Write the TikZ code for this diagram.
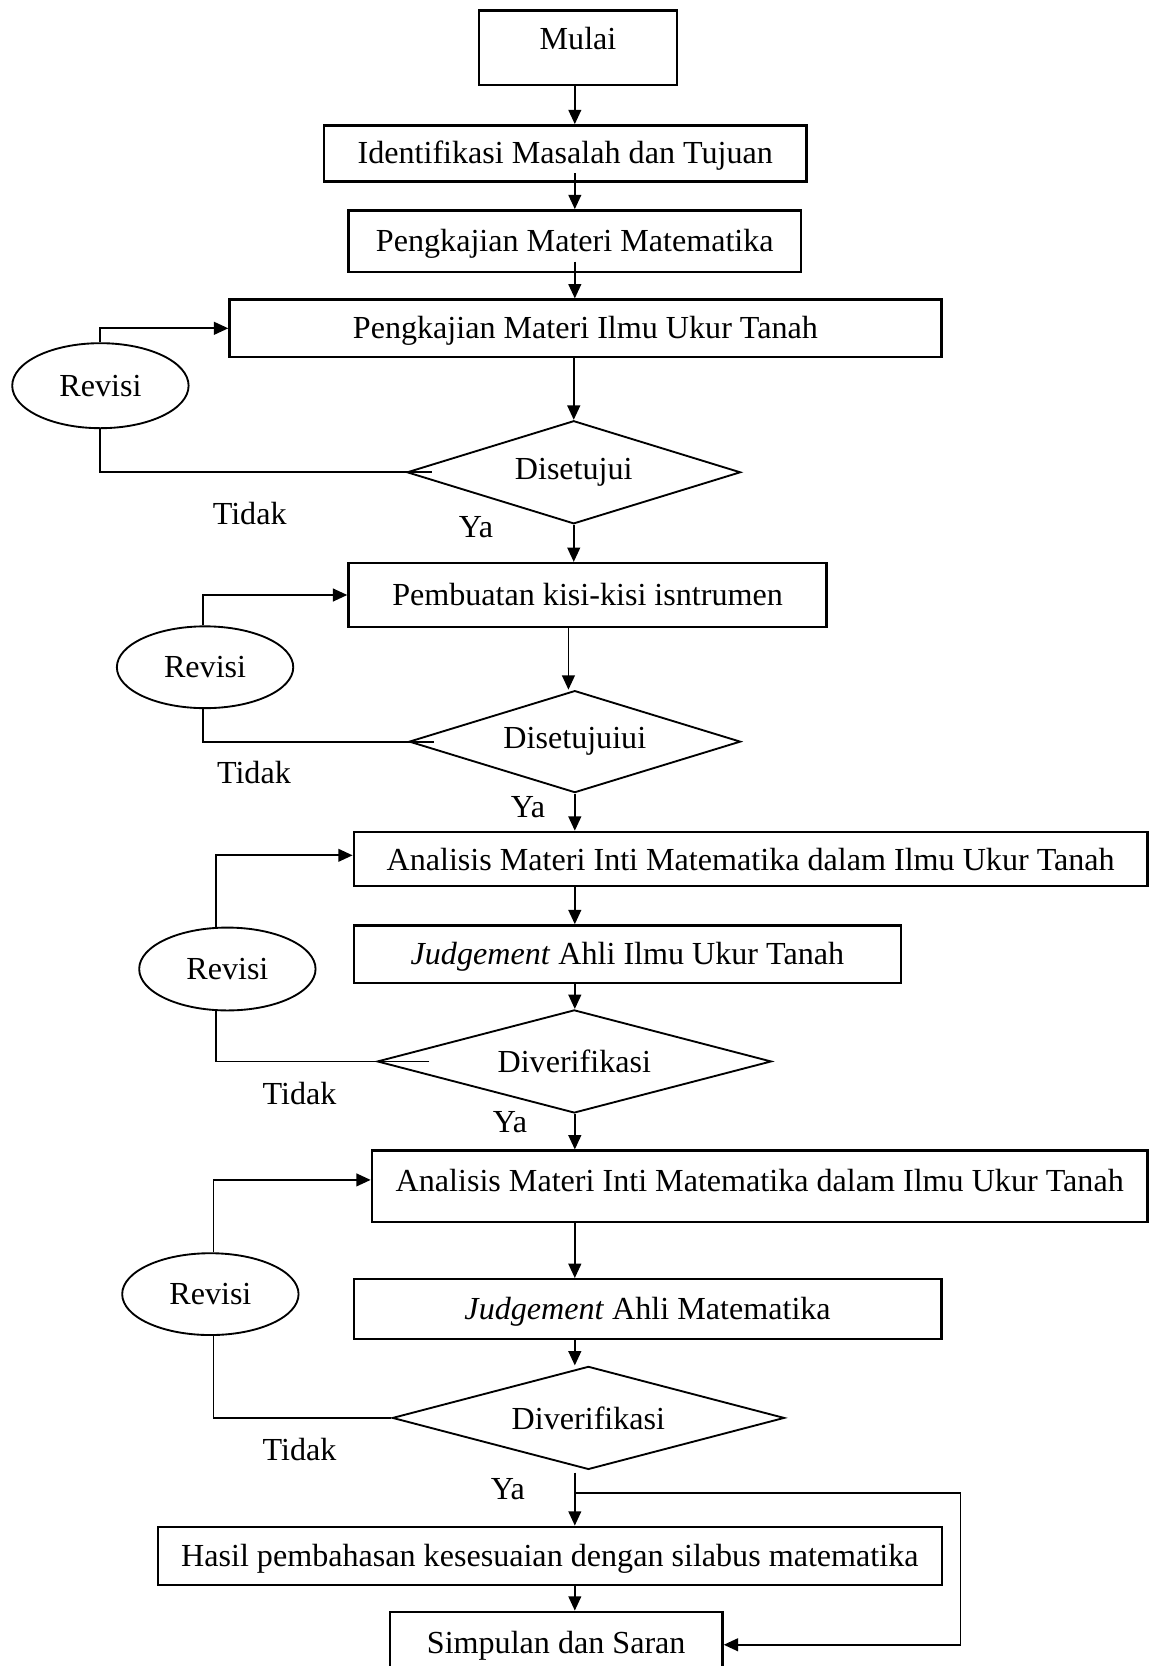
\documentclass[tikz,border=0pt]{standalone}
\usepackage{fontspec}
\setmainfont{Liberation Serif}
\usetikzlibrary{shapes.geometric,arrows.meta}

\tikzset{
  box/.style 2 args={draw, line width=1.3pt, rectangle, inner sep=0pt,
    minimum width=#1*0.02cm, minimum height=#2*0.02cm,
    text height=0.5cm, text depth=0.12cm},
  oval/.style 2 args={draw, line width=1pt, ellipse, inner sep=0pt,
    minimum width=#1*0.02cm, minimum height=#2*0.02cm},
  choice/.style 2 args={draw, line width=1pt, diamond, shape aspect=3.2, inner sep=0pt,
    minimum width=#1*0.02cm, minimum height=#2*0.02cm},
  link/.style={line width=1pt},
  arr/.style={link, -{Triangle[length=0.27cm,width=0.24cm]}},
  tag/.style={inner sep=0pt}
}

\begin{document}
\begin{tikzpicture}[x=0.02cm, y=-0.02cm, font=\fontsize{17.2}{20}\selectfont]
\useasboundingbox (0,0) rectangle (1082,1568);

\coordinate (spine) at (541,0);

% main column
\node[box={186}{70}, text depth=0.44cm] (mulai) at (544,45) {Mulai};
\node[box={454}{53}] (ident) at (532,144.5) {Identifikasi Masalah dan Tujuan};
\node[box={426}{58}] (pmm) at (541,227) {Pengkajian Materi Matematika};
\node[box={670}{54}] (piut) at (551,309) {Pengkajian Materi Ilmu Ukur Tanah};
\node[choice={314}{97}] (d1) at (540,444.5) {Disetujui};
\node[box={450}{60}] (pemb) at (553,560) {Pembuatan kisi-kisi isntrumen};
\node[choice={312}{96}] (d2) at (541,698) {Disetujuiui};
\node[box={747}{51}, text depth=0.07cm] (an1) at (706.5,808.5) {Analisis Materi Inti Matematika dalam Ilmu Ukur Tanah};
\node[box={515}{54}] (jilm) at (590.5,898) {\textit{Judgement} Ahli Ilmu Ukur Tanah};
\node[choice={371}{97}] (d3) at (540.5,999) {Diverifikasi};
\node[box={730}{67}, text depth=0.3cm] (an2) at (715,1116.5) {Analisis Materi Inti Matematika dalam Ilmu Ukur Tanah};
\node[box={553}{56}] (jmat) at (609.5,1232) {\textit{Judgement} Ahli Matematika};
\node[choice={369}{97}] (d4) at (553.8,1334.5) {Diverifikasi};
\node[box={738}{55}] (hasil) at (517.5,1464.5) {Hasil pembahasan kesesuaian dengan silabus matematika};
\node[box={313}{62}, text depth=0.16cm] (simp) at (523.5,1548) {Simpulan dan Saran};

% revision ovals
\node[oval={166}{80}] (rev1) at (94.5,363) {Revisi};
\node[oval={166}{77}] (rev2) at (193,628) {Revisi};
\node[oval={166}{78}] (rev3) at (214,912) {Revisi};
\node[oval={166}{77}] (rev4) at (198,1218) {Revisi};

% answer labels
\node[tag] (t1) at (235,483) {Tidak};
\node[tag] (y1) at (448,496) {Ya};
\node[tag] (t2) at (239,727) {Tidak};
\node[tag] (y2) at (497,760) {Ya};
\node[tag] (t3) at (282,1029) {Tidak};
\node[tag] (y3) at (480,1056) {Ya};
\node[tag] (t4) at (282,1364) {Tidak};
\node[tag] (y4) at (478,1402) {Ya};

% downward flow
\draw[arr] (mulai.south -| spine) -- (ident.north -| spine);
\draw[arr] ([yshift=0.18cm]ident.south -| spine) -- (pmm.north -| spine);
\draw[arr] ([yshift=0.22cm]pmm.south -| spine) -- (piut.north -| spine);
\draw[arr] (piut.south -| d1.north) -- (d1.north);
\draw[arr] (d1.south) -- (pemb.north -| d1.south);
\draw[arr] ([xshift=-0.12cm]pemb.south -| d2.north) -- ([xshift=-0.12cm]d2.north);
\draw[arr] (d2.south) -- (an1.north -| d2.south);
\draw[arr] (an1.south -| spine) -- (jilm.north -| spine);
\draw[arr] (jilm.south -| spine) -- (d3.north -| spine);
\draw[arr] (d3.south -| spine) -- (an2.north -| spine);
\draw[arr] (an2.south -| spine) -- (jmat.north -| spine);
\draw[arr] (jmat.south -| spine) -- (spine |- d4.north);
\draw[arr] ([yshift=-0.04cm]d4.south -| spine) -- (hasil.north -| spine);
\draw[arr] (hasil.south -| spine) -- (simp.north -| spine);

% shortcut to the conclusion
\coordinate (split) at (541,1405.5);
\coordinate (bend) at (904,1405.5);
\draw[arr] (split) -- (bend) |- (simp.east);

% revision loops
\draw[link] ([xshift=0.48cm]d1.west) -| (rev1.south);
\draw[arr] (rev1.north) |- (piut.west);
\draw[link] ([xshift=0.48cm]d2.west) -| ([xshift=-0.04cm]rev2.south);
\draw[arr] ([xshift=-0.04cm]rev2.north) |- (pemb.west);
\draw[link] ([xshift=1cm]d3.west) -| ([xshift=-0.22cm]rev3.south);
\draw[arr] ([xshift=-0.22cm]rev3.north) |- ([yshift=0.07cm]an1.west);
\draw[link] (d4.west) -| ([xshift=0.06cm]rev4.south);
\draw[arr] ([xshift=0.06cm]rev4.north) |- ([yshift=0.12cm]an2.west);
\end{tikzpicture}
\end{document}
